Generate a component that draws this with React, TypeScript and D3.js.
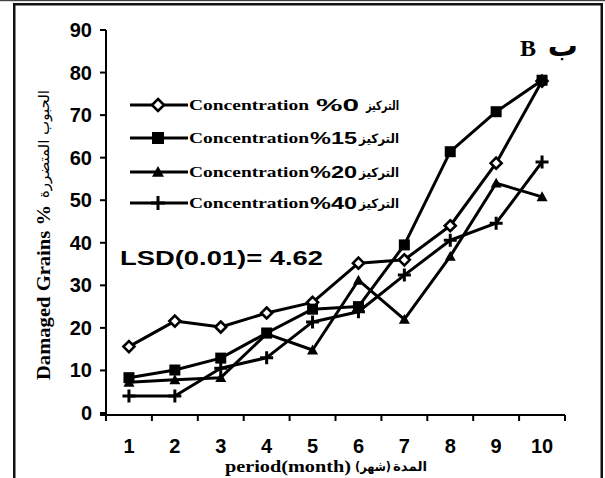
import * as d3 from 'd3';
import { useEffect, useRef } from 'react';

const months = [1, 2, 3, 4, 5, 6, 7, 8, 9, 10];
const yTicks = [0, 10, 20, 30, 40, 50, 60, 70, 80, 90];

const conc0 = [15.6, 21.6, 20.2, 23.5, 26, 35.2, 36, 44, 58.7, 78];
const conc15 = [8.3, 10.1, 12.9, 18.8, 24.4, 25, 39.5, 61.4, 70.8, 78.2];
const conc20 = [7.2, 7.8, 8.3, 18.6, 14.8, 31.2, 22, 36.8, 54, 50.8];
const conc40 = [4, 4, 10.5, 13, 21.4, 23.8, 32.4, 40.6, 44.6, 59];

const seriesNames = ['%0', '%15', '%20', '%40'];
const seriesValues = [conc0, conc15, conc20, conc40];
const markers = ['diamond', 'square', 'triangle', 'plus'];

const width = 605;
const height = 478;

export default function App() {
    const ref = useRef<SVGGElement>(null);

    useEffect(() => {
        const margin = { top: 30, right: 40, bottom: 64, left: 106 };
        const sans = '"Liberation Sans", Arial, sans-serif';
        const serif = '"Liberation Serif", "Times New Roman", serif';
        const arabic = '"DejaVu Sans", sans-serif';

        const svg = d3.select(ref.current);
        svg.selectAll('*').remove();

        // outer frame
        svg.append('rect').attr('x', 13).attr('y', 3).attr('width', 2.5).attr('height', height).attr('fill', '#111');
        svg.append('rect').attr('x', 13).attr('y', 3).attr('width', 590).attr('height', 2.5).attr('fill', '#111');
        svg.append('rect').attr('x', 600.5).attr('y', 3).attr('width', 2.5).attr('height', height).attr('fill', '#111');
        svg.append('rect').attr('x', 0).attr('y', 0).attr('width', width).attr('height', 1.2).attr('fill', '#444');

        const x = d3.scaleBand<number>()
            .domain(months)
            .range([margin.left, width - margin.right]);
        const y = d3.scaleLinear()
            .domain([0, 90])
            .range([height - margin.bottom - 1, margin.top]);
        const cx = (m: number) => x(m)! + x.bandwidth() / 2;

        // y axis
        const y0 = y(0);
        svg.append('line').attr('x1', margin.left).attr('x2', margin.left)
            .attr('y1', y(90)).attr('y2', y0 + 2).attr('stroke', '#000').attr('stroke-width', 2);
        svg.selectAll('line.ytick').data(yTicks).join('line').attr('class', 'ytick')
            .attr('x1', margin.left - 6).attr('x2', margin.left)
            .attr('y1', d => y(d)).attr('y2', d => y(d))
            .attr('stroke', '#000').attr('stroke-width', 2);
        svg.selectAll('text.ylab').data(yTicks).join('text').attr('class', 'ylab')
            .attr('x', 92).attr('y', d => y(d) + 7)
            .attr('text-anchor', 'end')
            .attr('font-family', sans).attr('font-weight', 'bold').attr('font-size', 20)
            .text(d => d);

        // x axis
        const xEdges = [...months.map(m => x(m)!), x(10)! + x.bandwidth()];
        const xAxisY = y0 + 2;
        svg.append('line').attr('x1', margin.left - 6).attr('x2', xEdges[xEdges.length - 1])
            .attr('y1', xAxisY).attr('y2', xAxisY).attr('stroke', '#000').attr('stroke-width', 2);
        svg.selectAll('line.xtick').data(xEdges).join('line').attr('class', 'xtick')
            .attr('x1', d => d).attr('x2', d => d)
            .attr('y1', xAxisY).attr('y2', xAxisY + 6)
            .attr('stroke', '#000').attr('stroke-width', 2);
        svg.selectAll('text.xlab').data(months).join('text').attr('class', 'xlab')
            .attr('x', d => cx(d)).attr('y', 453)
            .attr('text-anchor', 'middle')
            .attr('font-family', sans).attr('font-weight', 'bold').attr('font-size', 20)
            .text(d => d);

        // axis titles
        svg.append('text').attr('x', 225).attr('y', 472)
            .attr('font-family', serif).attr('font-weight', 'bold').attr('font-size', 17)
            .attr('textLength', 126).attr('lengthAdjust', 'spacingAndGlyphs')
            .text('period(month)');
        svg.append('text').attr('x', 391).attr('y', 471)
            .attr('direction', 'rtl').attr('text-anchor', 'start')
            .attr('font-family', arabic).attr('font-weight', 'bold').attr('font-size', 13)
            .attr('textLength', 36).attr('lengthAdjust', 'spacingAndGlyphs')
            .text('(شهر)');
        svg.append('text').attr('x', 427).attr('y', 471)
            .attr('direction', 'rtl').attr('text-anchor', 'start')
            .attr('font-family', arabic).attr('font-weight', 'bold').attr('font-size', 13)
            .attr('textLength', 34).attr('lengthAdjust', 'spacingAndGlyphs')
            .text('المدة');

        const yTitle = svg.append('g').attr('transform', 'translate(50,380) rotate(-90)');
        yTitle.append('text').attr('x', 0).attr('y', 0)
            .attr('font-family', serif).attr('font-weight', 'bold').attr('font-size', 19)
            .attr('textLength', 175).attr('lengthAdjust', 'spacingAndGlyphs')
            .text('Damaged Grains %');
        yTitle.append('text').attr('x', 182).attr('y', -1)
            .attr('direction', 'rtl').attr('text-anchor', 'end')
            .attr('font-family', arabic).attr('font-size', 15)
            .text('الحبوب المتضررة');

        // panel label
        svg.append('text').attr('x', 520).attr('y', 56)
            .attr('font-family', serif).attr('font-weight', 'bold').attr('font-size', 24)
            .text('B');
        svg.append('text').attr('x', 578).attr('y', 56).attr('direction', 'rtl')
            .attr('font-family', arabic).attr('font-weight', 'bold').attr('font-size', 30)
            .text('ب');

        // LSD
        svg.append('text').attr('x', 120).attr('y', 265)
            .attr('font-family', sans).attr('font-weight', 'bold').attr('font-size', 21)
            .attr('textLength', 203).attr('lengthAdjust', 'spacingAndGlyphs')
            .text('LSD(0.01)= 4.62');

        const drawMarker = (g: d3.Selection<SVGGElement, unknown, null, undefined>, type: string, px: number, py: number, s: number) => {
            if (type === 'diamond') {
                g.append('path')
                    .attr('d', `M${px},${py - s}L${px + s},${py}L${px},${py + s}L${px - s},${py}Z`)
                    .attr('fill', 'white').attr('stroke', '#000').attr('stroke-width', 2.6);
            } else if (type === 'square') {
                g.append('rect').attr('x', px - s).attr('y', py - s)
                    .attr('width', 2 * s).attr('height', 2 * s).attr('fill', '#000');
            } else if (type === 'triangle') {
                g.append('path')
                    .attr('d', `M${px},${py - s}L${px + s},${py + s * 0.8}L${px - s},${py + s * 0.8}Z`)
                    .attr('fill', '#000');
            } else {
                g.append('path')
                    .attr('d', `M${px - s},${py}H${px + s}M${px},${py - s}V${py + s}`)
                    .attr('stroke', '#000').attr('stroke-width', 3).attr('fill', 'none');
            }
        };

        const line = d3.line<number>()
            .x((_, i) => cx(months[i]))
            .y(d => y(d));

        seriesValues.forEach((vals, si) => {
            const g = svg.append('g');
            g.append('path').attr('d', line(vals)!)
                .attr('fill', 'none').attr('stroke', '#000').attr('stroke-width', 3)
                .attr('stroke-linejoin', 'round');
            vals.forEach((v, i) => drawMarker(g, markers[si], cx(months[i]), y(v), markers[si] === 'plus' ? 6.5 : 5.5));
        });

        // legend
        const legendRows = [105, 138, 172, 203];
        seriesNames.forEach((name, i) => {
            const ly = legendRows[i];
            const g = svg.append('g');
            g.append('line').attr('x1', 130).attr('x2', 188).attr('y1', ly).attr('y2', ly)
                .attr('stroke', '#000').attr('stroke-width', 3.2);
            drawMarker(g, markers[i], 158, ly, markers[i] === 'plus' ? 7 : 6);
            g.append('text').attr('x', 189).attr('y', ly + 5)
                .attr('font-family', serif).attr('font-weight', 'bold').attr('font-size', 15)
                .attr('textLength', 120).attr('lengthAdjust', 'spacingAndGlyphs')
                .text('Concentration');
            g.append('text').attr('x', i === 0 ? 316 : 310).attr('y', ly + 6)
                .attr('font-family', sans).attr('font-weight', 'bold').attr('font-size', 17)
                .attr('textLength', i === 0 ? 43 : 47).attr('lengthAdjust', 'spacingAndGlyphs')
                .text(name);
            g.append('text').attr('x', 399).attr('y', ly + 5).attr('direction', 'rtl')
                .attr('font-family', arabic).attr('font-weight', 'bold').attr('font-size', 13)
                .attr('textLength', i === 0 ? 33 : 40).attr('lengthAdjust', 'spacingAndGlyphs')
                .text('التركيز');
        });
    }, []);

    return (
        <div style={{ position: 'absolute', left: 0, top: 0 }}>
            <svg width={width} height={height} style={{ display: 'block', background: 'white' }}>
                <g ref={ref}></g>
            </svg>
        </div>
    );
}
